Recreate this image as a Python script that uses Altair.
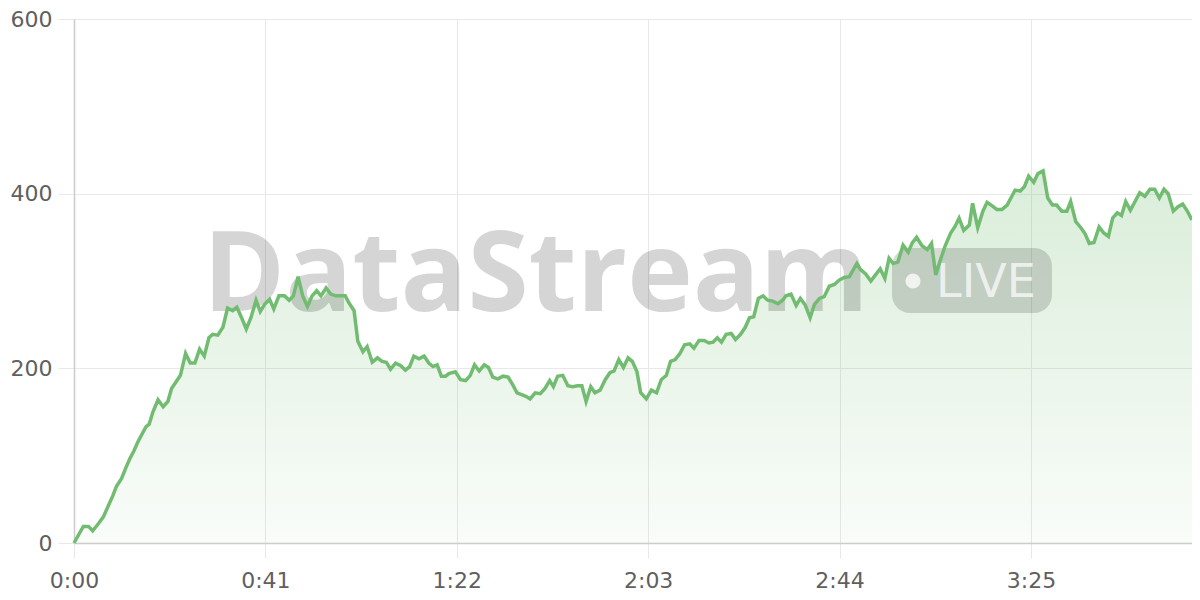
import altair as alt
import pandas as pd

# elapsed seconds and values
times = [0.0, 2.0, 3.1, 4.0, 5.2, 6.3, 7.3, 8.3, 9.1, 10.2, 11.1, 12.0, 12.8, 13.7, 14.7, 15.4, 16.1, 16.9, 18.0, 19.1,
         20.1, 20.9, 21.8, 22.8, 23.9, 24.9, 25.9, 26.9, 27.9, 28.9, 29.7, 30.8, 31.9, 32.9, 34.0, 34.9, 35.9, 36.9, 37.9, 39.0,
         39.9, 40.8, 41.9, 42.8, 43.9, 45.1, 46.1, 47.0, 48.0, 49.0, 50.0, 51.0, 52.0, 52.9, 54.0, 55.0, 56.1, 57.2, 58.1, 58.9,
         60.0, 60.8, 61.9, 62.8, 63.9, 65.0, 66.0, 66.9, 67.8, 68.9, 70.0, 71.0, 71.9, 72.8, 73.9, 75.0, 76.0, 76.9, 77.8, 78.7,
         79.6, 80.3, 81.7, 82.8, 83.9, 84.9, 85.8, 86.8, 87.9, 88.8, 89.7, 90.8, 91.9, 93.0, 94.0, 94.9, 95.9, 96.8, 97.7, 98.8,
         99.9, 100.9, 101.9, 102.7, 103.6, 104.7, 105.8, 106.8, 107.9, 108.8, 109.7, 110.7, 111.6, 112.7, 113.8, 114.8, 115.7, 116.7, 117.7, 118.7,
         119.6, 120.6, 121.4, 122.6, 123.7, 124.8, 125.8, 126.9, 127.8, 128.8, 129.8, 130.8, 131.9, 132.8, 133.9, 135.0, 136.0, 136.9, 137.8, 138.7,
         139.7, 140.8, 141.7, 142.8, 143.8, 144.7, 145.6, 146.6, 147.6, 148.6, 149.7, 150.8, 151.8, 152.5, 153.6, 154.7, 155.6, 156.6, 157.7, 158.6,
         159.7, 160.7, 161.8, 162.9, 163.9, 165.0, 166.1, 167.7, 168.5, 169.6, 170.7, 171.7, 172.7, 173.7, 174.6, 175.5, 176.5, 177.6, 178.7, 179.6,
         180.5, 181.7, 182.8, 183.7, 184.6, 185.6, 186.6, 187.8, 188.8, 189.6, 190.6, 191.8, 192.5, 193.6, 194.7, 195.6, 196.7, 197.7, 198.8, 199.9,
         200.7, 201.6, 202.7, 203.6, 204.5, 205.6, 206.5, 207.6, 208.6, 209.6, 210.5, 211.6, 212.7, 213.5, 214.6, 215.7, 216.6, 217.5, 218.5, 219.6,
         220.6, 221.6, 222.5, 223.5, 224.4, 225.3, 226.3, 227.3, 228.3, 229.4, 230.5, 231.5, 232.5, 233.5, 234.4, 235.5, 236.5, 237.5, 238.5, 239.5]
values = [0, 19, 19, 14, 22, 30, 42, 54, 65, 74, 86, 97, 105, 116, 126, 133, 136, 150, 164, 156,
          162, 177, 184, 192, 217, 206, 206, 222, 214, 235, 239, 238, 247, 269, 266, 270, 258, 245, 258, 278,
          265, 273, 279, 268, 283, 283, 278, 283, 305, 283, 271, 283, 289, 283, 292, 285, 283, 283, 283, 275,
          266, 231, 219, 225, 207, 212, 208, 207, 199, 206, 203, 198, 202, 214, 211, 214, 206, 202, 204, 191,
          191, 194, 196, 187, 186, 192, 204, 197, 204, 201, 190, 188, 191, 190, 181, 172, 170, 168, 165, 172,
          171, 177, 186, 179, 191, 192, 180, 179, 180, 180, 162, 179, 172, 175, 187, 195, 197, 210, 201, 212,
          208, 196, 172, 165, 175, 172, 187, 192, 208, 210, 217, 227, 228, 223, 232, 232, 229, 230, 235, 230,
          239, 240, 233, 239, 247, 258, 259, 280, 283, 278, 277, 274, 278, 283, 285, 272, 280, 273, 258, 273,
          280, 282, 294, 296, 301, 304, 305, 320, 313, 308, 300, 307, 314, 303, 326, 320, 322, 341, 333, 344,
          350, 340, 336, 343, 307, 324, 340, 355, 363, 372, 358, 364, 389, 361, 380, 390, 386, 382, 382, 387,
          395, 404, 403, 408, 420, 413, 423, 426, 395, 387, 387, 380, 380, 391, 368, 361, 354, 343, 344, 362,
          355, 351, 372, 378, 375, 391, 381, 391, 401, 397, 405, 405, 395, 405, 400, 380, 385, 388, 380, 370]

x_ticks = [0, 41, 82, 123, 164, 205]
y_ticks = [0, 200, 400, 600]
brand = ["DataStream"]
badge = ["LIVE"]

df = pd.DataFrame({"t": times, "v": values})
one = pd.DataFrame({"brand": brand, "badge": badge})

GREEN = "#72bc72"
AXIS_FONT = "DejaVu Sans"

x_enc = alt.X(
    "t:Q",
    scale=alt.Scale(domain=[0, 239.5], nice=False, zero=False),
    axis=alt.Axis(
        values=x_ticks,
        labelExpr="floor(datum.value/60) + ':' + (datum.value % 60 < 10 ? '0' : '') + (datum.value % 60)",
        title=None, tickSize=15, labelPadding=12, labelFlush=False,
    ),
)
y_enc = alt.Y(
    "v:Q",
    scale=alt.Scale(domain=[0, 600], nice=False),
    axis=alt.Axis(values=y_ticks, title=None, tickSize=16, labelPadding=6, labelFlush=False),
)

base = alt.Chart(df)

area = base.mark_area(
    color=alt.Gradient(
        gradient="linear",
        stops=[
            alt.GradientStop(color="rgba(111,186,111,0.26)", offset=0),
            alt.GradientStop(color="rgba(111,186,111,0.04)", offset=1),
        ],
        x1=1, x2=1, y1=0, y2=1,
    )
).encode(x=x_enc, y=y_enc)

line = base.mark_line(color=GREEN, strokeWidth=3.5).encode(x="t:Q", y="v:Q")

wm = alt.Chart(one)
brand_text = wm.mark_text(
    font="Open Sans", fontWeight="bold", fontSize=111, align="left", baseline="alphabetic",
    color="#000000", opacity=0.16,
).encode(text="brand:N", x=alt.value(129), y=alt.value(292))

badge_rect = wm.mark_rect(cornerRadius=18, color="#000000", opacity=0.15).encode(
    x=alt.value(818), x2=alt.value(978), y=alt.value(229), y2=alt.value(294)
)
badge_dot = wm.mark_circle(size=230, color="#ffffff", opacity=0.75).encode(
    x=alt.value(839), y=alt.value(262)
)
badge_text = wm.mark_text(
    font="DejaVu Sans", fontSize=46, align="left", baseline="alphabetic",
    color="#ffffff", opacity=0.7,
).encode(text="badge:N", x=alt.value(862), y=alt.value(278))

chart = (
    alt.layer(area, brand_text, badge_rect, badge_dot, badge_text, line)
    .properties(
        width=1118, height=524,
        autosize=alt.AutoSizeParams(type="none"),
        padding={"left": 66, "top": 11, "right": 0, "bottom": 49},
    )
    .configure_view(stroke=None)
    .configure_axis(
        domainColor="#cccccc", domainWidth=1.5,
        gridColor="#e8e8e8", gridWidth=1,
        tickColor="#e8e8e8", tickWidth=1,
        labelColor="#5f5f5f", labelFont=AXIS_FONT, labelFontSize=22,
    )
)

chart.save("out.html", embed_options={"renderer": "svg", "actions": False})
